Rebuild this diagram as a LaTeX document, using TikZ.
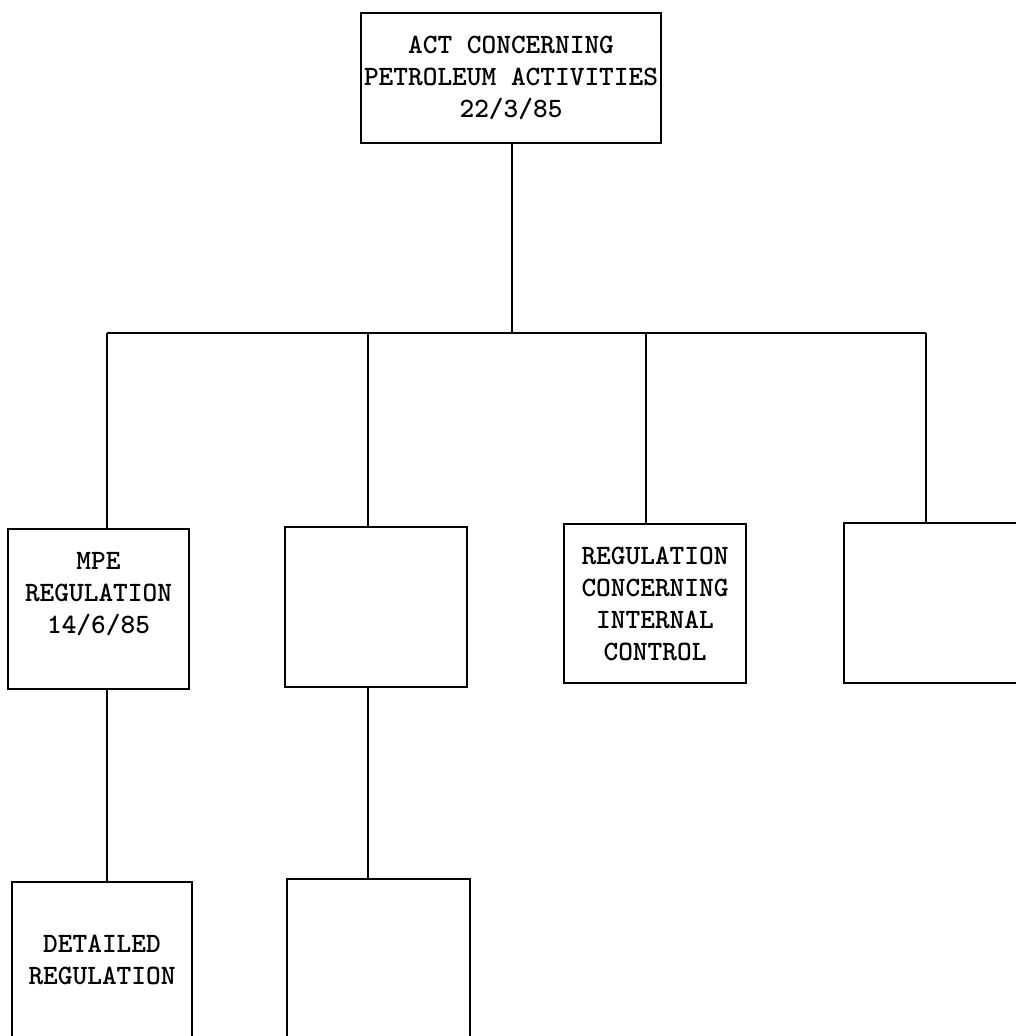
\documentclass[tikz,border=0pt]{standalone}
\usetikzlibrary{positioning}

\begin{document}
\begin{tikzpicture}[
  x=1pt, y=-1pt,
  box/.style={draw, line width=2.2pt, align=center, inner sep=0pt, font=\ttfamily\bfseries\fontsize{28}{32}\selectfont},
  link/.style={line width=2.2pt}
]
\useasboundingbox (0,0) rectangle (1016,1036);
\clip (0,0) rectangle (1016,1036);

% Act
\node[box, minimum width=300pt, minimum height=130pt] (act) at (511,78) {ACT CONCERNING\\PETROLEUM ACTIVITIES\\22/3/85};

% Regulations
\node[box, minimum width=181pt, minimum height=160pt, text depth=33pt] (mpe) at (98.5,609) {MPE\\REGULATION\\14/6/85};
\node[box, minimum width=182pt, minimum height=160pt] (reg2) at (376,607) {};
\node[box, minimum width=182pt, minimum height=159pt] (ic) at (655,603.5) {REGULATION\\CONCERNING\\INTERNAL\\CONTROL};
\node[box, minimum width=180pt, minimum height=160pt] (reg4) at (934,603) {};

% Detailed level
\node[box, minimum width=180pt, minimum height=178pt, text depth=23pt] (det) at (102,971) {DETAILED\\REGULATION};
\node[box, minimum width=183pt, minimum height=181pt] (det2) at (378.5,969.5) {};

% bar
\coordinate (bar) at (512,333);
\coordinate (b1) at (107,333);
\coordinate (b2) at (368,333);
\coordinate (b3) at (646,333);
\coordinate (b4) at (926,333);

\draw[link] (act.south -| bar) -- (bar);
\draw[link] (b1) -- (b4);
\draw[link] (b1) -- (b1 |- mpe.north);
\draw[link] (b2) -- (b2 |- reg2.north);
\draw[link] (b3) -- (b3 |- ic.north);
\draw[link] (b4) -- (b4 |- reg4.north);
\draw[link] (b1 |- mpe.south) -- (b1 |- det.north);
\draw[link] (b2 |- reg2.south) -- (b2 |- det2.north);
\end{tikzpicture}
\end{document}
